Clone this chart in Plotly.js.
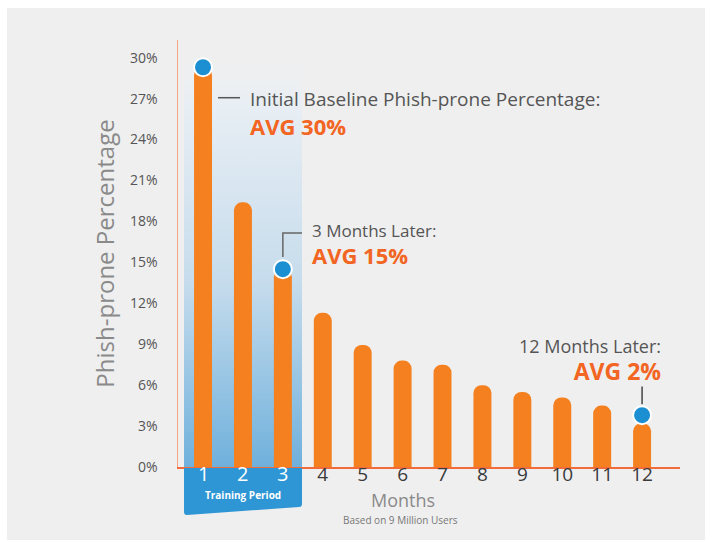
<!DOCTYPE html>
<html>
<head>
<meta charset="utf-8">
<script src="https://cdn.plot.ly/plotly-3.0.1.min.js"></script>
<style>html,body{margin:0;padding:0;background:#fff;}#chart{width:705px;height:540px;}</style>
</head>
<body>
<div id="chart"></div>
<script>
// ---- data ----
const months = [1,2,3,4,5,6,7,8,9,10,11,12];
const monthLabels = ["1","2","3","4","5","6","7","8","9","10","11","12"];
const phishPct = [29.3, 19.4, 14.5, 11.3, 8.95, 7.8, 7.5, 6.0, 5.5, 5.1, 4.5, 3.2];
const dotMonths = [1, 3, 12];
const dotPct = [29.3, 14.5, 3.8];
const yTicks = [0,3,6,9,12,15,18,21,24,27,30];
const yTickLabels = ["0%","3%","6%","9%","12%","15%","18%","21%","24%","27%","30%"];
const trainingMonths = [1,2,3];

// paper-coordinate helpers for decorations (pixel -> paper)
const L = 178, T = 40, W = 502, H = 427;
const px = v => ((v - L) / W).toFixed(4);
const py = v => ((T + H - v) / H).toFixed(4);

const gray = '#555555';
const orange = '#f26522';
const annFont = 'Open Sans, Liberation Sans, sans-serif';

// training-period month labels sit on the blue box (drawn as white annotations above it)
const tickText = monthLabels.map((t,i)=> trainingMonths.includes(months[i]) ? '' : t);
const trainingLabelAnns = months.filter(m => trainingMonths.includes(m)).map(m => ({
  xref: 'x', yref: 'paper', x: m, y: py(473), xanchor: 'center', yanchor: 'middle', showarrow: false,
  text: monthLabels[months.indexOf(m)], font: { family: annFont, size: 20, color: '#ffffff' }
}));

const boxSvg = '<svg xmlns="http://www.w3.org/2000/svg" width="118" height="413" viewBox="0 0 118 413" preserveAspectRatio="none">' +
  '<defs><linearGradient id="g" x1="0" y1="0" x2="0" y2="1">' +
  '<stop offset="0" stop-color="#eef1f4" stop-opacity="0"/>' +
  '<stop offset="0.12" stop-color="#e8eef4" stop-opacity="1"/>' +
  '<stop offset="0.55" stop-color="#c6dcec"/>' +
  '<stop offset="1" stop-color="#6fb0dc"/>' +
  '</linearGradient></defs>' +
  '<rect x="0" y="0" width="118" height="413" fill="url(#g)"/>' +
  '</svg>';
const boxUri = 'data:image/svg+xml;base64,' + btoa(boxSvg);

const traces = [
  {
    type: 'bar', x: months, y: phishPct, width: 0.45,
    marker: { color: '#f5801f', cornerradius: 9 },
    hoverinfo: 'skip', showlegend: false
  },
  {
    type: 'scatter', mode: 'markers', x: dotMonths, y: dotPct,
    marker: { size: 18, color: '#1b8fd2', line: { color: '#ffffff', width: 2 } },
    cliponaxis: false, hoverinfo: 'skip', showlegend: false
  }
];

const solidPath = 'M ' + px(184) + ',' + py(468) + ' L ' + px(302) + ',' + py(468) +
  ' L ' + px(302) + ',' + py(504) + ' Q ' + px(302) + ',' + py(507) + ' ' + px(299) + ',' + py(507) +
  ' L ' + px(187) + ',' + py(515) + ' Q ' + px(184) + ',' + py(515) + ' ' + px(184) + ',' + py(512) + ' Z';

const layout = {
  width: 705, height: 540,
  margin: { l: L, r: 25, t: T, b: 73 },
  paper_bgcolor: '#efefef',
  plot_bgcolor: 'rgba(0,0,0,0)',
  showlegend: false,
  xaxis: {
    range: [0.373, 12.95],
    tickmode: 'array', tickvals: months, ticktext: tickText,
    tickfont: { family: annFont, size: 19, color: '#3a3a3a' },
    ticks: '', ticklabelstandoff: -10,
    showgrid: false, zeroline: false,
    showline: true, linecolor: '#f26b3a', linewidth: 1.5,
    fixedrange: true
  },
  yaxis: {
    range: [0, 31.3],
    tickmode: 'array', tickvals: yTicks, ticktext: yTickLabels,
    tickfont: { family: 'Liberation Sans Narrow, Open Sans, sans-serif', size: 14, color: gray },
    ticks: '', ticklabelstandoff: 16,
    showgrid: false, zeroline: false,
    showline: true, linecolor: '#f4a384', linewidth: 1.5,
    title: { text: 'Phish-prone Percentage', font: { family: annFont, size: 24, color: '#8a8a8a' }, standoff: 8 },
    fixedrange: true
  },
  shapes: [
    { type: 'rect', xref: 'paper', yref: 'paper', x0: -0.4, x1: 1.1, y0: 1.0749, y1: 1.2,
      fillcolor: '#ffffff', line: { width: 0 }, layer: 'below' },
    { type: 'rect', xref: 'paper', yref: 'paper', x0: -0.4, x1: -0.3406, y0: -0.3, y1: 1.2,
      fillcolor: '#ffffff', line: { width: 0 }, layer: 'below' },
    { type: 'path', xref: 'paper', yref: 'paper', path: solidPath,
      fillcolor: '#2e96d4', line: { width: 0 }, layer: 'above' },
    { type: 'line', xref: 'x', yref: 'y', x0: 1.376, x1: 1.927, y0: 27.07, y1: 27.07, line: { color: '#555', width: 1.5 } },
    { type: 'path', xref: 'x', yref: 'y', path: 'M 3 15.4 L 3 17.16 L 3.48 17.16', line: { color: '#666', width: 1.5 } },
    { type: 'line', xref: 'x', yref: 'y', x0: 12, x1: 12, y0: 4.6, y1: 5.9, line: { color: '#444', width: 1.5 } }
  ],
  images: [
    { source: boxUri, xref: 'paper', yref: 'paper', x: px(184), y: py(55), sizex: 118 / W, sizey: 413 / H,
      xanchor: 'left', yanchor: 'top', sizing: 'stretch', layer: 'below' }
  ],
  annotations: [
    { xref: 'x', yref: 'y', x: 2.13, y: 25.9, xanchor: 'left', yanchor: 'middle', align: 'left', showarrow: false,
      text: '<span style="font-size:19px;color:' + gray + '">Initial Baseline Phish-prone Percentage:</span><br><b>AVG 30%</b>',
      font: { family: annFont, size: 22, color: orange } },
    { xref: 'x', yref: 'y', x: 3.68, y: 16.3, xanchor: 'left', yanchor: 'middle', align: 'left', showarrow: false,
      text: '<span style="font-size:17px;color:' + gray + '">3 Months Later:</span><br><span style="font-size:22px"><b>AVG 15%</b></span>',
      font: { family: annFont, size: 21, color: orange } },
    { xref: 'x', yref: 'y', x: 12.53, y: 7.78, xanchor: 'right', yanchor: 'middle', align: 'right', showarrow: false,
      text: '<span style="font-size:18px;color:' + gray + '">12 Months Later:</span><br><span style="font-size:23px"><b>AVG 2%</b></span>',
      font: { family: annFont, size: 21, color: orange } },
    { xref: 'x', yref: 'paper', x: 2.0, y: py(495), xanchor: 'center', yanchor: 'middle', showarrow: false,
      text: '<b>Training Period</b>', font: { family: annFont, size: 10, color: '#ffffff' } },
    { xref: 'x', yref: 'paper', x: 6.0, y: py(500), xanchor: 'center', yanchor: 'middle', showarrow: false,
      text: 'Months', font: { family: annFont, size: 18, color: '#8a8a8a' } },
    { xref: 'x', yref: 'paper', x: 5.95, y: py(520), xanchor: 'center', yanchor: 'middle', showarrow: false,
      text: 'Based on 9 Million Users', font: { family: annFont, size: 10, color: '#777777' } }
  ].concat(trainingLabelAnns)
};

Plotly.newPlot('chart', traces, layout, { staticPlot: true, displayModeBar: false });
</script>
</body>
</html>
